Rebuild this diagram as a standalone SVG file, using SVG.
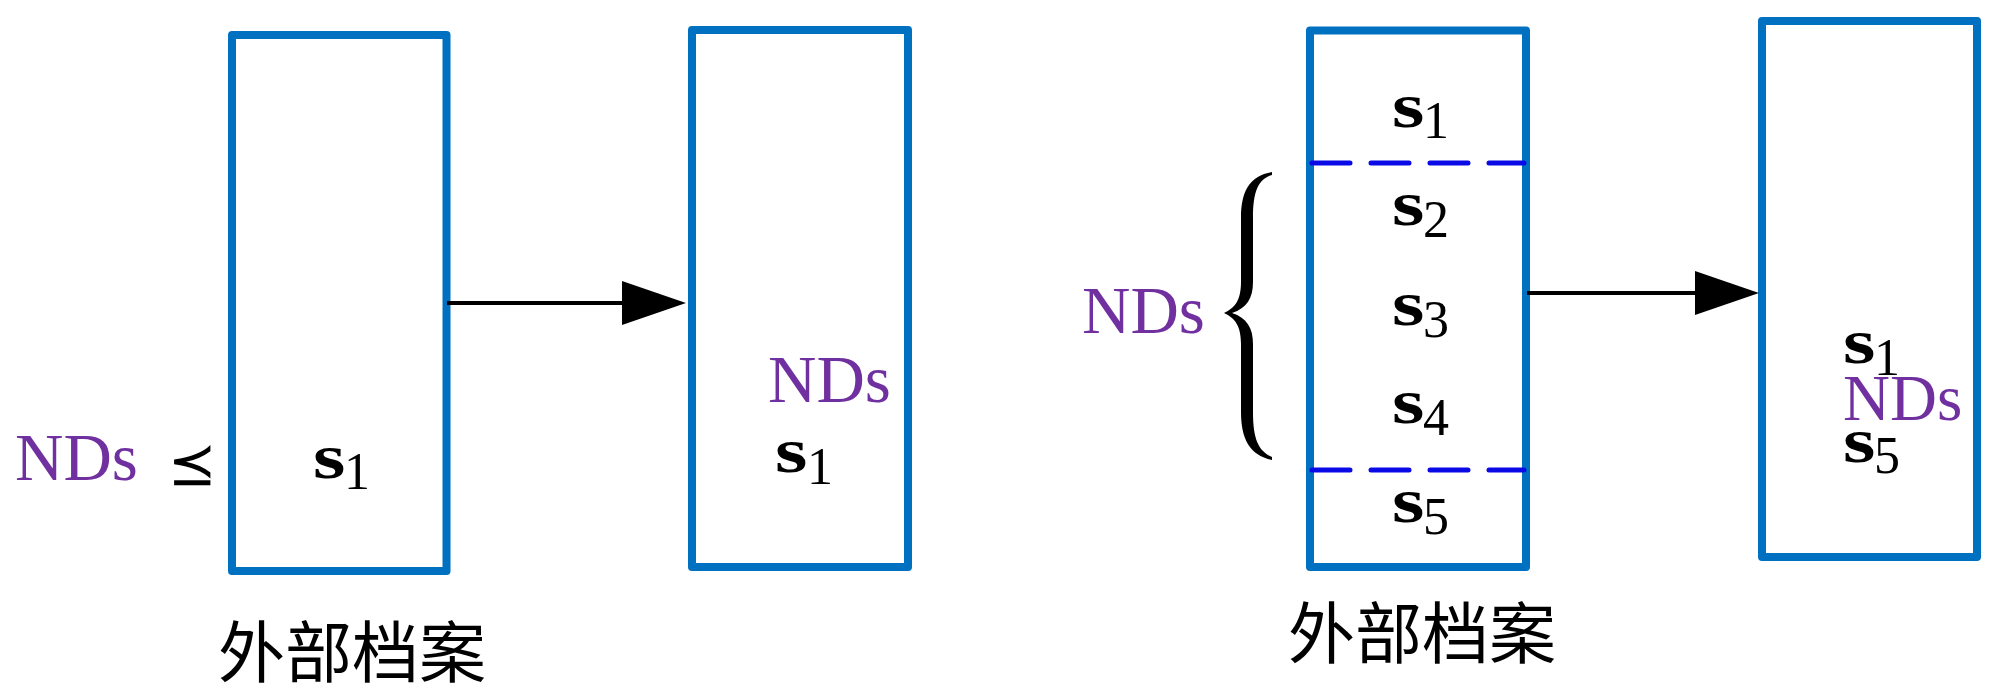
<svg xmlns="http://www.w3.org/2000/svg" width="2000" height="698" viewBox="0 0 2000 698">
<style>
.box{fill:#fff;stroke:#0070C0;stroke-width:8;stroke-linejoin:round}
.dash{stroke:#0a0ae6;stroke-width:5;stroke-dasharray:38 21;stroke-linecap:round}
.nds{font-family:"Liberation Serif","Times New Roman",serif;font-size:67px;fill:#7030A0}
.s{font-family:"Liberation Serif","Times New Roman",serif;font-size:64px;font-weight:bold;fill:#000}
.d{font-family:"Liberation Serif","Times New Roman",serif;font-size:52px;fill:#000}
.cn{font-family:"Noto Sans CJK SC","Noto Sans CJK TC",sans-serif;font-size:67px;fill:#000}
.conn{stroke:#000;stroke-width:4;fill:none}
</style>
<defs>
<marker id="ah" markerUnits="userSpaceOnUse" viewBox="0 0 64 44" markerWidth="64" markerHeight="44" refX="0" refY="22" orient="auto">
<path d="M0,0 L64,22 L0,44 Z" fill="#000"/>
</marker>
</defs>

<g id="box1">
<rect class="box" x="232" y="35" width="214.5" height="536"/>
<g transform="translate(313,478)"><text class="s" transform="scale(1.3,1)">s</text><text class="d" x="31" y="11">1</text></g>
</g>
<g id="nds-left">
<text class="nds" x="15" y="480">NDs</text>
<text x="168" y="484" style="font-family:'DejaVu Sans',sans-serif;font-size:58px;fill:#000">⪯</text>
</g>
<text class="cn" x="218" y="677">外部档案</text>

<g id="box2">
<rect class="box" x="692" y="30" width="216" height="537"/>
<text class="nds" x="768" y="402">NDs</text>
<g transform="translate(775,472)"><text class="s" transform="scale(1.3,1)">s</text><text class="d" x="32" y="12">1</text></g>
</g>

<g id="box3">
<rect class="box" x="1310" y="30.5" width="216" height="536.5"/>
<line class="dash" x1="1312" y1="163" x2="1524" y2="163"/>
<line class="dash" x1="1312" y1="470" x2="1524" y2="470"/>
<g transform="translate(1392,127)"><text class="s" transform="scale(1.3,1)">s</text><text class="d" x="31" y="11">1</text></g>
<g transform="translate(1392,225)"><text class="s" transform="scale(1.3,1)">s</text><text class="d" x="31" y="12">2</text></g>
<g transform="translate(1392,325)"><text class="s" transform="scale(1.3,1)">s</text><text class="d" x="31" y="12">3</text></g>
<g transform="translate(1392,423)"><text class="s" transform="scale(1.3,1)">s</text><text class="d" x="31" y="12">4</text></g>
<g transform="translate(1392,522)"><text class="s" transform="scale(1.3,1)">s</text><text class="d" x="31" y="12">5</text></g>
</g>
<g id="nds-brace">
<text class="nds" x="1082" y="333">NDs</text>
<path fill="#000" d="M1272,172 C1249,176 1241,192 1241,218 L1241,282 C1241,300 1235,308 1224,313 C1235,318 1241,326 1241,344 L1241,412 C1241,438 1249,455 1272,460 L1272,457 C1258,451 1253,438 1253,412 L1253,344 C1253,328 1247,318 1232,313 C1247,308 1253,298 1253,282 L1253,218 C1253,192 1258,179 1272,175 Z"/>
</g>
<text class="cn" x="1288" y="658">外部档案</text>

<g id="box4">
<rect class="box" x="1762" y="21" width="215" height="536"/>
<g transform="translate(1843,363)"><text class="s" transform="scale(1.3,1)">s</text><text class="d" x="31" y="12">1</text></g>
<text class="nds" x="1843" y="420" style="font-size:65px">NDs</text>
<g transform="translate(1843,462)"><text class="s" transform="scale(1.3,1)">s</text><text class="d" x="31" y="11">5</text></g>
</g>

<g id="connectors">
<line class="conn" x1="447" y1="303" x2="622" y2="303" marker-end="url(#ah)"/>
<line class="conn" x1="1527" y1="293" x2="1695" y2="293" marker-end="url(#ah)"/>
</g>
</svg>
